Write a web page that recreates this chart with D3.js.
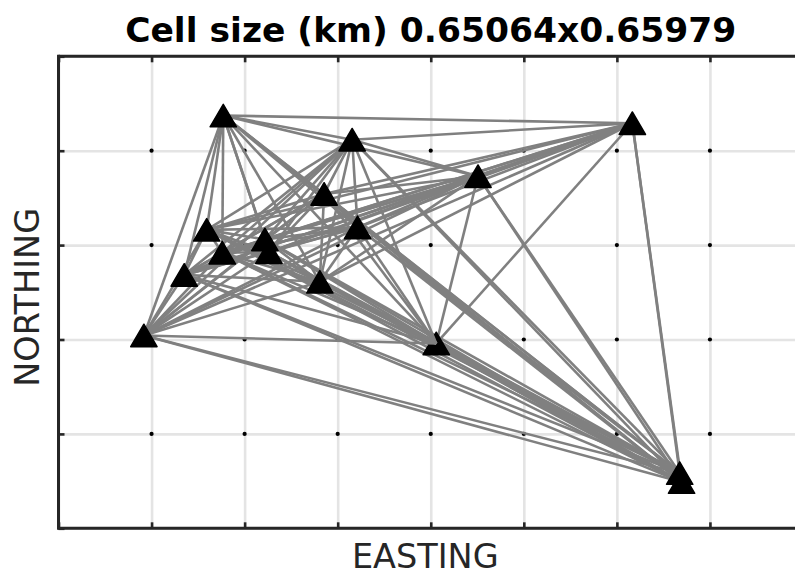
<!DOCTYPE html>
<html>
<head>
<meta charset="utf-8">
<script src="https://cdn.jsdelivr.net/npm/d3@7"></script>
<style>
  html, body { margin: 0; padding: 0; background: #fff; }
  svg { display: block; }
</style>
</head>
<body>
<svg id="chart" width="795" height="573"></svg>
<script>
// Grid cell size (km) and number of cells across the map
const cellEast = 0.65064;
const cellNorth = 0.65979;
const cellsEast = 8;
const cellsNorth = 5;

// Station positions (km from the lower-left map corner)
const stationEast  = [1.152, 2.053, 1.857, 1.036, 1.443, 1.145, 1.471, 2.091,
                      0.879, 1.827, 0.597, 2.641, 2.933, 4.012, 4.343, 4.356];
const stationNorth = [2.885, 2.716, 2.337, 2.086, 2.019, 1.926, 1.930, 2.103,
                      1.771, 1.723, 1.348, 1.292, 2.461, 2.831, 0.386, 0.323];

// Tick positions along each axis (grid node indices)
const eastTicks  = d3.range(0, cellsEast + 1);
const northTicks = d3.range(0, cellsNorth + 1);

const titleText = "Cell size (km) " + cellEast.toFixed(5) + "x" + cellNorth.toFixed(5);

const svg = d3.select("#chart");
const frame = { left: 58.5, right: 803, top: 56.3, bottom: 528.3 };

const x = d3.scaleLinear().domain([0, cellsEast * cellEast]).range([frame.left, frame.right]);
const y = d3.scaleLinear().domain([0, cellsNorth * cellNorth]).range([frame.bottom, frame.top]);

const xt = eastTicks.map(i => i * cellEast);
const yt = northTicks.map(i => i * cellNorth);

// Grid
const gridColor = "#e4e4e4";
const grid = svg.append("g").attr("class", "grid");
grid.append("g")
  .attr("transform", `translate(0,${frame.bottom})`)
  .call(d3.axisBottom(x).tickValues(xt).tickSize(-(frame.bottom - frame.top)).tickFormat(""))
  .call(g => g.select(".domain").remove())
  .call(g => g.selectAll("line").attr("stroke", gridColor).attr("stroke-width", 2.6));
grid.append("g")
  .attr("transform", `translate(${frame.left},0)`)
  .call(d3.axisLeft(y).tickValues(yt).tickSize(-(frame.right - frame.left)).tickFormat(""))
  .call(g => g.select(".domain").remove())
  .call(g => g.selectAll("line").attr("stroke", gridColor).attr("stroke-width", 2.6));

// Grid nodes
const nodes = [];
xt.slice(1, -1).forEach(e => yt.slice(1, -1).forEach(n => nodes.push([e, n])));
svg.append("g").selectAll("circle").data(nodes).join("circle")
  .attr("cx", d => x(d[0])).attr("cy", d => y(d[1])).attr("r", 2.1).attr("fill", "#000");

// Station records
const stations = stationEast.map((e, i) => ({ e, n: stationNorth[i], i }));

// Upward triangle centred on its bounding box
const triangle = {
  draw(ctx, size) {
    const h = Math.sqrt(size) / 2, w = h * 1.17;
    ctx.moveTo(0, -h);
    ctx.lineTo(w, h);
    ctx.lineTo(-w, h);
    ctx.closePath();
  }
};
const sym = d3.symbol().type(triangle).size(22.5 * 22.5);

function drawStations(sel) {
  svg.append("g").selectAll("path").data(sel).join("path")
    .attr("d", sym)
    .attr("transform", d => `translate(${x(d.e)},${y(d.n)})`)
    .attr("fill", "#000").attr("stroke", "#000").attr("stroke-width", 1.5)
    .attr("stroke-linejoin", "round");
}

function drawPaths(list) {
  svg.append("g").selectAll("line").data(list).join("line")
    .attr("x1", d => x(d[0].e)).attr("y1", d => y(d[0].n))
    .attr("x2", d => x(d[1].e)).attr("y2", d => y(d[1].n))
    .attr("stroke", "#808080").attr("stroke-width", 2.6);
}

// Inter-station paths (every station pair)
const pairs = [];
for (let i = 0; i < stations.length; i++)
  for (let j = i + 1; j < stations.length; j++) pairs.push([stations[i], stations[j]]);

// Station 12 sits between the path layers: paths arriving from the west overlay it
const mid = 11;
const overlay = p => (p[1].i === mid && p[0].e < stations[mid].e);
drawPaths(pairs.filter(p => !overlay(p)));
drawStations(stations.filter(d => d.i === mid));
drawPaths(pairs.filter(overlay));
drawStations(stations.filter(d => d.i !== mid));

// Axes frame with inward ticks
const axisColor = "#262626";
function styleAxis(g) {
  g.select(".domain").remove();
  g.selectAll("line").attr("stroke", axisColor).attr("stroke-width", 2.6);
}
svg.append("g").attr("transform", `translate(0,${frame.bottom})`)
  .call(d3.axisBottom(x).tickValues(xt).tickSize(-6).tickFormat("")).call(styleAxis);
svg.append("g").attr("transform", `translate(0,${frame.top})`)
  .call(d3.axisTop(x).tickValues(xt).tickSize(-6).tickFormat("")).call(styleAxis);
svg.append("g").attr("transform", `translate(${frame.left},0)`)
  .call(d3.axisLeft(y).tickValues(yt).tickSize(-6).tickFormat("")).call(styleAxis);
svg.append("g").attr("stroke", axisColor).attr("stroke-width", 3).attr("fill", "none")
  .call(g => g.append("line").attr("x1", frame.left).attr("x2", frame.left)
    .attr("y1", frame.top - 1.5).attr("y2", frame.bottom + 1.5))
  .call(g => g.append("line").attr("x1", frame.left).attr("x2", frame.right)
    .attr("y1", frame.top).attr("y2", frame.top))
  .call(g => g.append("line").attr("x1", frame.left).attr("x2", frame.right)
    .attr("y1", frame.bottom).attr("y2", frame.bottom));

// Labels
const midX = (frame.left + frame.right) / 2;
svg.append("text")
  .attr("x", midX).attr("y", 42)
  .attr("text-anchor", "middle")
  .attr("font-family", "DejaVu Sans").attr("font-weight", "bold").attr("font-size", 34.5)
  .attr("fill", "#000")
  .text(titleText);
svg.append("text")
  .attr("x", midX - 5.5).attr("y", 568)
  .attr("text-anchor", "middle")
  .attr("font-family", "DejaVu Sans").attr("font-size", 33.5)
  .attr("fill", axisColor)
  .text("EASTING");
svg.append("text")
  .attr("transform", `translate(38.5,${(frame.top + frame.bottom) / 2 + 5}) rotate(-90)`)
  .attr("text-anchor", "middle")
  .attr("font-family", "DejaVu Sans").attr("font-size", 33.5)
  .attr("fill", axisColor)
  .text("NORTHING");
</script>
</body>
</html>
